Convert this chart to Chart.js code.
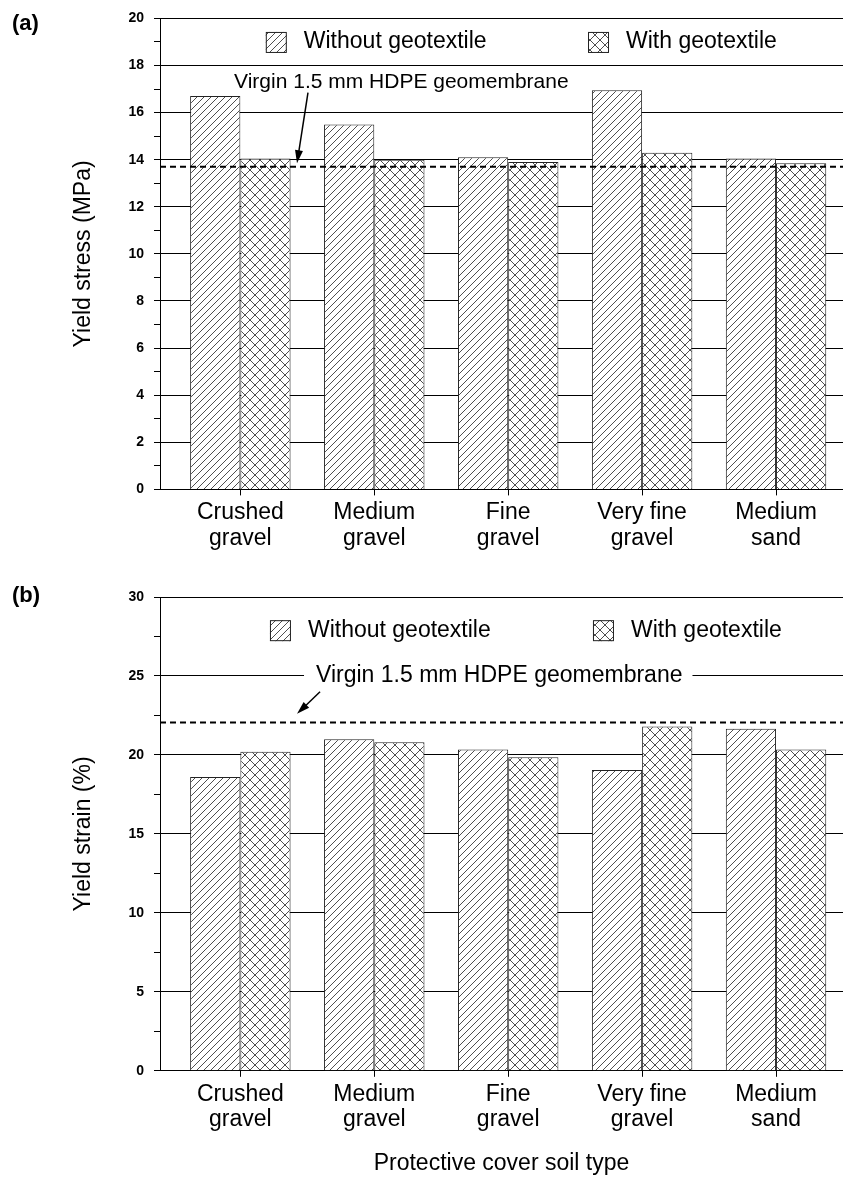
<!DOCTYPE html>
<html>
<head>
<meta charset="utf-8">
<script src="https://cdn.jsdelivr.net/npm/chart.js@4.4.1/dist/chart.umd.min.js"></script>
<style>
    body { margin: 0; background: #fff; }
    #wrap { position: relative; width: 843px; height: 1180px; }
    canvas { position: absolute; left: 0; }
    .panel { position: absolute; left: 12px; font: bold 22px "Liberation Sans", Arial, sans-serif; }
</style>
</head>
<body>
<div id="wrap">
    <canvas id="chartA" width="843" height="560" style="top:0"></canvas>
    <canvas id="chartB" width="843" height="620" style="top:560px"></canvas>
    <div class="panel" style="top:10px">(a)</div>
    <div class="panel" style="top:582px">(b)</div>
</div>
<script>
// data
const categories = [["Crushed", "gravel"], ["Medium", "gravel"], ["Fine", "gravel"], ["Very fine", "gravel"], ["Medium", "sand"]];
const stressWithout = [16.7, 15.5, 14.1, 16.95, 14.05];
const stressWith = [14.05, 14.0, 13.9, 14.3, 13.85];
const stressVirgin = 13.7;
const strainWithout = [18.6, 21.0, 20.35, 19.05, 21.65];
const strainWith = [20.2, 20.8, 19.85, 21.8, 20.35];
const strainVirgin = 22.05;
const seriesNames = ["Without geotextile", "With geotextile"];
const refText = "Virgin 1.5 mm HDPE geomembrane";

const FONT = '"Liberation Sans", Arial, sans-serif';

function makePattern(cross) {
    var s = cross ? 10 : 7;
    var c = document.createElement("canvas");
    c.width = s; c.height = s;
    var g = c.getContext("2d");
    g.fillStyle = "#fff";
    g.fillRect(0, 0, s, s);
    g.strokeStyle = "#222";
    g.lineWidth = 0.8;
    g.beginPath();
    g.moveTo(0, s); g.lineTo(s, 0);
    g.moveTo(-1, 1); g.lineTo(1, -1);
    g.moveTo(s - 1, s + 1); g.lineTo(s + 1, s - 1);
    if (cross) {
        g.moveTo(0, 0); g.lineTo(s, s);
        g.moveTo(-1, s - 1); g.lineTo(1, s + 1);
        g.moveTo(s - 1, -1); g.lineTo(s + 1, 1);
    }
    g.stroke();
    return g.createPattern(c, "repeat");
}
const hatch = makePattern(false);
const crossHatch = makePattern(true);

// dashed reference line + label + arrow
const refPlugin = {
    id: "refLine",
    afterDatasetsDraw(chart, args, o) {
        var ctx = chart.ctx, x = chart.scales.x, y = chart.scales.y, area = chart.chartArea;
        var yy = y.getPixelForValue(o.value);
        ctx.save();
        ctx.strokeStyle = "#000";
        ctx.lineWidth = 2;
        ctx.setLineDash([6, 4]);
        ctx.beginPath();
        ctx.moveTo(area.left, yy);
        ctx.lineTo(area.right, yy);
        ctx.stroke();
        ctx.setLineDash([]);
        ctx.font = o.fontSize + "px " + FONT;
        ctx.textBaseline = "middle";
        var tx = x.getPixelForValue(o.textX), ty = y.getPixelForValue(o.textY);
        var w = ctx.measureText(o.text).width;
        if (o.clear) {
            ctx.fillStyle = "#fff";
            ctx.fillRect(tx - 12, ty - 12, w + 22, 24);
        }
        ctx.fillStyle = "#000";
        ctx.fillText(o.text, tx, ty);
        // arrow
        var x0 = x.getPixelForValue(o.arrow[0]), y0 = y.getPixelForValue(o.arrow[1]);
        var x1 = x.getPixelForValue(o.arrow[2]), y1 = y.getPixelForValue(o.arrow[3]);
        var a = Math.atan2(y1 - y0, x1 - x0);
        ctx.lineWidth = 1.5;
        ctx.beginPath();
        ctx.moveTo(x0, y0);
        ctx.lineTo(x1 - 10 * Math.cos(a), y1 - 10 * Math.sin(a));
        ctx.stroke();
        ctx.beginPath();
        ctx.moveTo(x1, y1);
        ctx.lineTo(x1 - 13 * Math.cos(a) + 4 * Math.sin(a), y1 - 13 * Math.sin(a) - 4 * Math.cos(a));
        ctx.lineTo(x1 - 13 * Math.cos(a) - 4 * Math.sin(a), y1 - 13 * Math.sin(a) + 4 * Math.cos(a));
        ctx.closePath();
        ctx.fill();
        ctx.restore();
    }
};

// legend drawn inside the plot area
const insideLegend = {
    id: "insideLegend",
    afterDraw(chart, args, o) {
        var ctx = chart.ctx, x = chart.scales.x, y = chart.scales.y;
        var cy = y.getPixelForValue(o.y);
        ctx.save();
        ctx.font = "23px " + FONT;
        ctx.textBaseline = "middle";
        chart.data.datasets.forEach(function (ds, i) {
            var bx = x.getPixelForValue(o.xs[i]);
            ctx.fillStyle = ds.backgroundColor;
            ctx.fillRect(bx, cy - 10, 21, 21);
            ctx.strokeStyle = "#222";
            ctx.lineWidth = 1;
            ctx.strokeRect(bx + 0.5, cy - 9.5, 20, 20);
            ctx.fillStyle = "#000";
            ctx.fillText(ds.label, bx + 38, cy);
        });
        ctx.restore();
    }
};

function makeChart(id, without, withGeo, opts) {
    var ctx = document.getElementById(id);
    return new Chart(ctx, {
        type: "bar",
        data: {
            datasets: [{
                label: seriesNames[0],
                data: without.map((v, i) => ({ x: i, y: v })),
                backgroundColor: hatch,
                borderColor: "#222",
                borderWidth: 1
            }, {
                label: seriesNames[1],
                data: withGeo.map((v, i) => ({ x: i, y: v })),
                backgroundColor: crossHatch,
                borderColor: "#222",
                borderWidth: 1
            }]
        },
        options: {
            responsive: false,
            animation: false,
            devicePixelRatio: 1,
            categoryPercentage: 0.75,
            barPercentage: 1.0,
            layout: { padding: { top: opts.top, bottom: opts.bottom, left: 0, right: 0 } },
            plugins: {
                legend: { display: false },
                tooltip: { enabled: false },
                refLine: opts.ref,
                insideLegend: opts.legend
            },
            scales: {
                x: {
                    type: "linear",
                    min: -0.6,
                    max: 4.5,
                    offset: false,
                    border: { color: "#000", width: 1 },
                    grid: { offset: false, drawOnChartArea: false, drawTicks: true, tickLength: 6, color: "#000" },
                    ticks: {
                        stepSize: 1,
                        includeBounds: false,
                        autoSkip: false,
                        maxRotation: 0,
                        padding: 5,
                        color: "#000",
                        font: { family: FONT, size: 23, lineHeight: 1.1 },
                        callback: (v) => categories[v]
                    },
                    title: opts.xTitle
                },
                y: {
                    min: 0,
                    max: opts.max,
                    afterFit: (scale) => { scale.width = 160; },
                    border: { color: "#000", width: 1 },
                    grid: {
                        color: (c) => c.tick && c.tick.value % opts.major === 0 ? "#000" : "rgba(0,0,0,0)",
                        tickColor: "#000",
                        tickLength: 6
                    },
                    ticks: {
                        stepSize: opts.minor,
                        padding: 10,
                        color: "#000",
                        font: { family: FONT, size: 14, weight: "bold" },
                        callback: (v) => v % opts.major === 0 ? v : ""
                    },
                    title: {
                        display: true,
                        text: opts.yTitle,
                        color: "#000",
                        font: { family: FONT, size: 23 },
                        padding: { top: 70, bottom: 0 }
                    }
                }
            }
        },
        plugins: [refPlugin, insideLegend]
    });
}

// (a) yield stress
makeChart("chartA", stressWithout, stressWith, {
    top: 16, bottom: 4, max: 20, major: 2, minor: 1,
    yTitle: "Yield stress (MPa)",
    xTitle: { display: false },
    ref: { value: stressVirgin, text: refText, fontSize: 21, textX: -0.047, textY: 17.3, clear: false, arrow: [0.505, 16.85, 0.423, 13.85] },
    legend: { y: 19.0, xs: [0.19, 2.596] }
});

// (b) yield strain
makeChart("chartB", strainWithout, strainWith, {
    top: 37, bottom: 1, max: 30, major: 5, minor: 2.5,
    yTitle: "Yield strain (%)",
    xTitle: {
        display: true,
        text: "Protective cover soil type",
        color: "#000",
        font: { family: FONT, size: 23 },
        padding: { top: 12, bottom: 2 }
    },
    ref: { value: strainVirgin, text: refText, fontSize: 23, textX: 0.565, textY: 25, clear: true, arrow: [0.595, 24.0, 0.423, 22.6] },
    legend: { y: 27.9, xs: [0.221, 2.633] }
});
</script>
</body>
</html>
